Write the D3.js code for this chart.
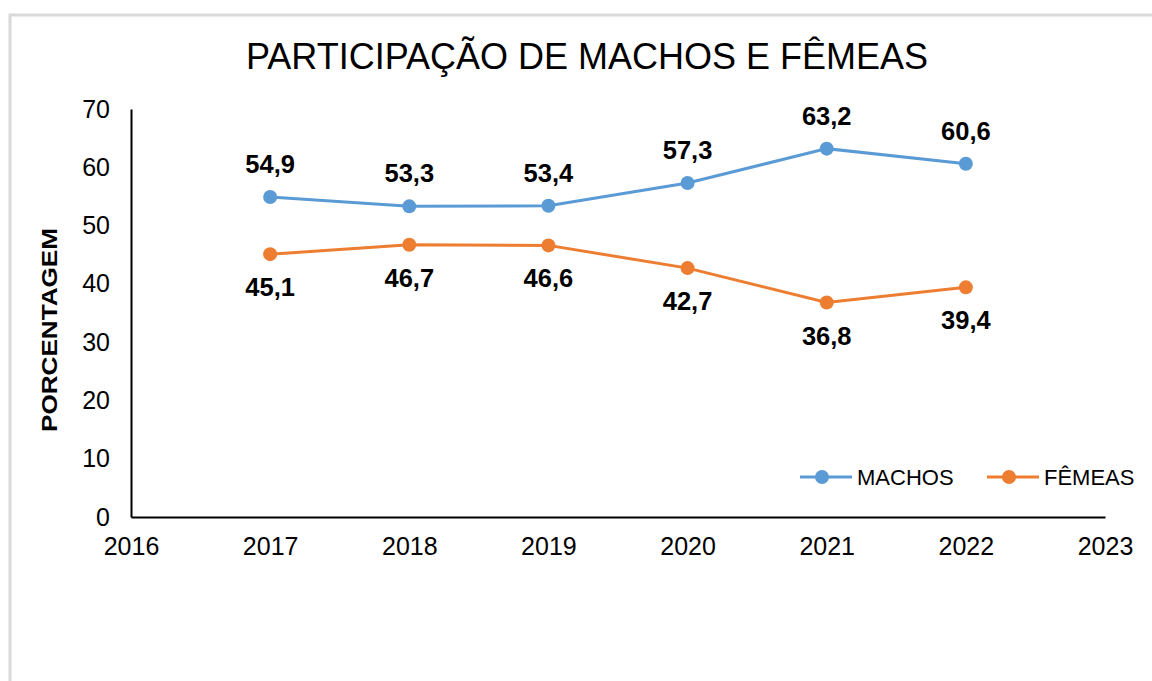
<html>
<head>
<meta charset="utf-8">
<script src="https://cdn.jsdelivr.net/npm/d3@7"></script>
<style>
body { margin: 0; background: #fff; font-family: 'Liberation Sans', Arial, sans-serif; }
</style>
</head>
<body>
<div id="chart"></div>
<script>

// data
var years = [2017, 2018, 2019, 2020, 2021, 2022];
var machos = [54.9, 53.3, 53.4, 57.3, 63.2, 60.6];
var femeas = [45.1, 46.7, 46.6, 42.7, 36.8, 39.4];
var seriesNames = ["MACHOS", "FÊMEAS"];
var yTicks = [0, 10, 20, 30, 40, 50, 60, 70];
var xTicks = [2016, 2017, 2018, 2019, 2020, 2021, 2022, 2023];

var width = 1152, height = 681;
var colors = ["#5b9bd5", "#ed7d31"];

var svg = d3.select("#chart").append("svg").attr("width", width).attr("height", height);

// outer frame (cut off at right and bottom)
svg.append("rect").attr("x", 10).attr("y", 15).attr("width", 1160).attr("height", 700)
  .attr("fill", "none").attr("stroke", "#d9d9d9").attr("stroke-width", 3);

var xScale = d3.scaleLinear().domain([2016, 2023]).range([131, 1105]);
var yScale = d3.scaleLinear().domain([0, 70]).range([517, 109]);

// title
svg.append("text").attr("x", 587).attr("y", 69).attr("text-anchor", "middle")
  .style("font-size", "36px").attr("fill", "#000")
  .text("PARTICIPAÇÃO DE MACHOS E FÊMEAS");

// y axis
var yAxis = svg.append("g").attr("transform", "translate(131,0)")
  .call(d3.axisLeft(yScale).tickValues(yTicks).tickSize(0).tickPadding(21).tickFormat(d3.format("d")));
// x axis
var xAxis = svg.append("g").attr("transform", "translate(0,517)")
  .call(d3.axisBottom(xScale).tickValues(xTicks).tickSize(0).tickPadding(20).tickFormat(d3.format("d")));

[yAxis, xAxis].forEach(function(ax) {
  ax.select(".domain").attr("stroke", "#000").attr("stroke-width", 2);
  ax.selectAll("text").style("font-size", "25px").attr("fill", "#000")
    .style("font-family", "'Liberation Sans', Arial, sans-serif");
});

// y axis title
svg.append("text").attr("transform", "translate(57,330) rotate(-90)")
  .attr("text-anchor", "middle").style("font-size", "22px").style("font-weight", "bold")
  .attr("textLength", 204).attr("lengthAdjust", "spacingAndGlyphs")
  .text("PORCENTAGEM");

var line = d3.line().x((d, i) => xScale(years[i])).y(d => yScale(d));
var fmt = v => v.toFixed(1).replace(".", ",");

[machos, femeas].forEach(function(vals, s) {
  svg.append("path").datum(vals).attr("d", line)
    .attr("fill", "none").attr("stroke", colors[s]).attr("stroke-width", 3);
  svg.selectAll(".pt" + s).data(vals).enter().append("circle")
    .attr("class", "pt" + s)
    .attr("cx", (d, i) => xScale(years[i])).attr("cy", d => yScale(d))
    .attr("r", 7).attr("fill", colors[s]);
  svg.selectAll(".lbl" + s).data(vals).enter().append("text")
    .attr("class", "lbl" + s)
    .attr("x", (d, i) => xScale(years[i]))
    .attr("y", d => s == 0 ? yScale(d) - 24 : yScale(d) + 42)
    .attr("text-anchor", "middle").style("font-size", "25.5px").style("font-weight", "bold")
    .attr("fill", "#000")
    .text(fmt);
});

// legend
var legendX = [800, 987];
seriesNames.forEach(function(name, s) {
  var g = svg.append("g").attr("transform", "translate(" + legendX[s] + ",477)");
  g.append("line").attr("x1", 0).attr("x2", 52).attr("y1", 0).attr("y2", 0)
    .attr("stroke", colors[s]).attr("stroke-width", 3);
  g.append("circle").attr("cx", 22).attr("cy", 0).attr("r", 7).attr("fill", colors[s]);
  g.append("text").attr("x", 57).attr("y", 8).style("font-size", "22px").attr("fill", "#000")
    .text(name);
});

</script>
</body>
</html>
